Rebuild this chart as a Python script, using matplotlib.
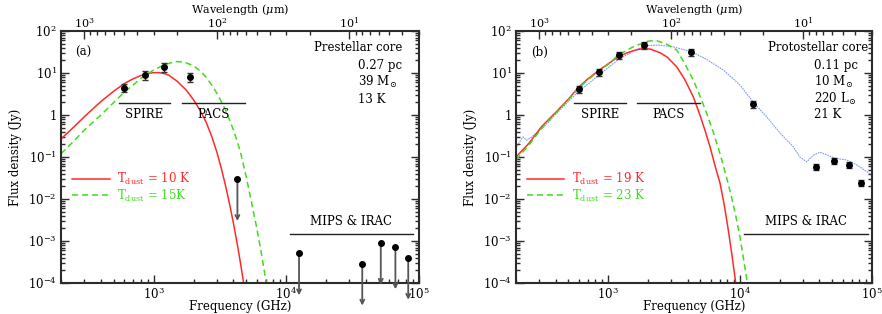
import matplotlib
matplotlib.use('Agg')
import matplotlib.pyplot as plt
import numpy as np
from matplotlib.ticker import LogLocator, FuncFormatter, NullFormatter, FixedLocator

plt.rcParams['font.family'] = 'DejaVu Serif'
plt.rcParams['mathtext.fontset'] = 'dejavuserif'
plt.rcParams['font.size'] = 8.5

# photometry (GHz, Jy)
nu_det_a = [599.6, 856.5, 1199.2, 1873.7]
s_det_a = [4.5, 9.0, 14.0, 8.0]
e_det_a = [1.0, 2.0, 3.2, 1.8]
nu_lim_a = [4282.7, 12491, 37474, 51688, 66621, 83275]
s_lim_a = [0.03, 5.1e-4, 2.9e-4, 9.1e-4, 7.1e-4, 4.0e-4]

nu_det_b = [599.6, 856.5, 1199.2, 1873.7, 4282.7, 12491, 37474, 51688, 66621, 83275]
s_det_b = [4.1, 10.4, 27.0, 47.0, 31.0, 1.83, 0.059, 0.082, 0.065, 0.024]
e_det_b = [0.8, 2.1, 5.4, 9.0, 6.0, 0.35, 0.009, 0.012, 0.010, 0.004]

# greybody fits
nu_red_a = [200, 250, 300, 400, 500, 600, 700, 800, 900, 1000, 1100, 1200, 1300, 1500,
            1750, 2000, 2250, 2500, 2750, 3000, 3250, 3500, 3750, 4000, 4250, 4500, 4750, 5000]
s_red_a = [0.27, 0.52, 0.91, 2.1, 3.7, 5.6, 7.3, 8.7, 9.7, 10.2, 10.2, 9.7, 8.9, 6.4,
           4.0, 2.3, 1.26, 0.65, 0.30, 0.13, 0.051, 0.0195, 7.2e-3, 2.6e-3, 9.3e-4, 3.2e-4, 1.1e-4, 3.7e-5]
nu_grn_a = [200, 250, 300, 400, 500, 600, 700, 850, 1000, 1200, 1450, 1700, 2000, 2250, 2500,
            2750, 3000, 3500, 4000, 4500, 5000, 5500, 6000, 6500, 7000, 7500]
s_grn_a = [0.12, 0.24, 0.44, 1.0, 2.0, 3.5, 5.2, 8.6, 11.8, 15.6, 18.8, 18.2, 14.8, 11.2, 7.8,
           5.1, 3.3, 1.29, 0.44, 0.138, 0.033, 7.7e-3, 2.0e-3, 5.0e-4, 1.2e-4, 2.8e-5]

nu_red_b = [200, 250, 313, 400, 500, 593, 700, 857, 1000, 1193, 1400, 1600, 1845, 2100, 2472,
            2800, 3306, 3800, 4416, 4900, 5400, 5916, 6500, 7047, 7600, 8147, 8700, 9270, 9600]
s_red_b = [0.10, 0.21, 0.53, 1.15, 2.4, 4.5, 7.2, 11.8, 16.5, 24.4, 30.5, 35.0, 38.6, 37.0, 30.4,
           24.0, 14.1, 7.1, 2.73, 1.12, 0.45, 0.176, 0.058, 0.024, 7.1e-3, 1.8e-3, 4.4e-4, 1.0e-4, 4.2e-5]
nu_grn_b = [200, 250, 313, 400, 500, 593, 700, 857, 1000, 1193, 1500, 1845, 2000, 2265, 2472,
            2800, 3306, 3800, 4416, 5000, 5585, 6300, 7047, 7800, 8630, 9300, 9980, 10700, 11350, 11800]
s_grn_b = [0.085, 0.19, 0.48, 1.1, 2.3, 4.3, 6.8, 11.5, 16.0, 26.8, 40.0, 52.6, 57.0, 60.0, 55.6,
           48.0, 35.3, 17.0, 6.8, 2.7, 1.1, 0.37, 0.12, 0.038, 0.011, 3.8e-3, 1.26e-3, 3.3e-4, 1.0e-4, 4.4e-5]

# radiative transfer model (panel b)
nu_mod_b = [200, 215, 227, 241, 263, 295, 350, 400, 500, 593, 857, 1193, 1690, 2000, 2470, 3119,
            4300, 5590, 7460, 9980, 12800, 15900, 20100, 25300, 28400, 32000, 35900, 40400,
            53000, 64300, 76700, 100000]
s_mod_b = [0.16, 0.24, 0.30, 0.25, 0.30, 0.40, 0.66, 1.05, 2.1, 3.6, 9.0, 21.0, 38.0, 45.0, 46.0, 42.0,
           32.0, 21.0, 11.8, 5.2, 1.9, 0.91, 0.37, 0.176, 0.10, 0.077, 0.11, 0.13,
           0.093, 0.085, 0.065, 0.037]

# instrument bands: name, low, high (GHz), bar level (Jy)
bands_a = [('SPIRE', 545, 1336, 1.9), ('PACS', 1636, 4845, 1.9), ('MIPS & IRAC', 10600, 90000, 1.5e-3)]
bands_b = [('SPIRE', 550, 1355, 1.9), ('PACS', 1663, 4950, 1.9), ('MIPS & IRAC', 10700, 92700, 1.5e-3)]

labels_a = ['Prestellar core', '0.27 pc', r'39 M$_{\!\odot}$', '13 K']
labels_b = ['Protostellar core', '0.11 pc', r'10 M$_{\!\odot}$', r'220 L$_{\!\odot}$', '21 K']
temps_a = [r'T$_{\rm dust}$ = 10 K', r'T$_{\rm dust}$ = 15K']
temps_b = [r'T$_{\rm dust}$ = 19 K', r'T$_{\rm dust}$ = 23 K']

y_ticks = [1e-4, 1e-3, 1e-2, 1e-1, 1, 10, 100]
x_ticks = [1e3, 1e4, 1e5]
lam_ticks = [1000, 100, 10]

RED = '#ff2a2a'
GRN = '#3fdc1e'
BLUE = '#7f95ff'
FRAME = '#2b2b2b'


def ylab(v, pos):
    p = int(round(np.log10(v)))
    return '1' if p == 0 else r'$10^{%d}$' % p


def setup(ax):
    ax.set_xscale('log')
    ax.set_yscale('log')
    ax.set_xlim(200, 1e5)
    ax.set_ylim(1e-4, 100)
    ax.yaxis.set_major_locator(FixedLocator(y_ticks))
    ax.yaxis.set_minor_locator(LogLocator(10, subs=np.arange(2, 10), numticks=10))
    ax.yaxis.set_major_formatter(FuncFormatter(ylab))
    ax.yaxis.set_minor_formatter(NullFormatter())
    ax.xaxis.set_major_locator(FixedLocator(x_ticks))
    ax.xaxis.set_major_formatter(FuncFormatter(ylab))
    ax.xaxis.set_minor_formatter(NullFormatter())
    ax.tick_params(which='both', direction='in', right=True, top=False, color=FRAME, width=1.0)
    ax.tick_params(which='major', length=6)
    ax.tick_params(which='minor', length=3)
    ax.tick_params(axis='x', pad=2)
    ax.tick_params(axis='y', pad=3)
    for s in ax.spines.values():
        s.set_linewidth(1.5)
        s.set_color(FRAME)
    ax.set_xlabel('Frequency (GHz)', labelpad=-1.5)
    ax.set_ylabel('Flux density (Jy)', labelpad=4)
    top = ax.twiny()
    top.set_xscale('log')
    top.set_xlim(3e5 / 200, 3e5 / 1e5)
    top.xaxis.set_major_locator(FixedLocator(lam_ticks))
    top.xaxis.set_major_formatter(FuncFormatter(ylab))
    top.xaxis.set_minor_formatter(NullFormatter())
    top.tick_params(which='both', direction='in', color=FRAME, width=1.0, pad=1, labelsize=8)
    top.tick_params(which='major', length=6)
    top.tick_params(which='minor', length=3)
    top.set_xlabel(r'Wavelength ($\mu$m)', labelpad=1.5, fontsize=8)
    for s in top.spines.values():
        s.set_visible(False)


def bars(ax, bands):
    for name, lo, hi, lev in bands:
        ax.plot([lo, hi], [lev, lev], color='#222222', lw=1.0)
        fac = 0.55 if lev > 0.1 else 1.95
        ax.text(np.sqrt(lo * hi), lev * fac, name, ha='center', va='center')


def upper(ax, nu, s):
    for n, v in zip(nu, s):
        ax.annotate('', xy=(n, v / 10), xytext=(n, v), annotation_clip=False,
                    arrowprops=dict(arrowstyle='->', color='#555555', lw=1.3,
                                    shrinkA=0, shrinkB=0, mutation_scale=7))
    ax.plot(nu, s, 'o', color='black', ms=4, clip_on=False, zorder=5)


def info(ax, lines, xr, xl):
    ax.text(xr, 0.934, lines[0], transform=ax.transAxes, ha='right', va='center')
    ys = [0.862, 0.796, 0.730, 0.667]
    for t, y in zip(lines[1:], ys):
        ax.text(xl, y, t, transform=ax.transAxes, ha='left', va='center')


def legend(ax, handles, texts):
    ax.legend(handles, texts, loc='upper left', bbox_to_anchor=(0.03, 0.445),
              frameon=False, handlelength=3.2, handletextpad=0.6, labelspacing=0.05,
              borderpad=0, borderaxespad=0, labelcolor='linecolor')


fig = plt.figure(figsize=(8.82, 3.14), dpi=100)
ax1 = fig.add_axes([0.0692, 0.0987, 0.4056, 0.8025])
ax2 = fig.add_axes([0.5850, 0.0987, 0.4036, 0.8025])

for ax in (ax1, ax2):
    setup(ax)

# panel a
l1, = ax1.plot(nu_red_a, s_red_a, color=RED, lw=1.1)
l2, = ax1.plot(nu_grn_a, s_grn_a, color=GRN, lw=1.1, ls=(0, (4, 2.5)))
ax1.errorbar(nu_det_a, s_det_a, yerr=e_det_a, fmt='o', color='black', ms=4,
             ecolor='#333333', elinewidth=1.0, capsize=2.5, capthick=1.0, zorder=5)
upper(ax1, nu_lim_a, s_lim_a)
bars(ax1, bands_a)
ax1.text(0.039, 0.915, '(a)', transform=ax1.transAxes, ha='left', va='center')
info(ax1, labels_a, 0.955, 0.831)
legend(ax1, [l1, l2], temps_a)

# panel b
ax2.plot(nu_mod_b, s_mod_b, color=BLUE, lw=0.8, ls=(0, (1.5, 0.8)))
l3, = ax2.plot(nu_red_b, s_red_b, color=RED, lw=1.1)
l4, = ax2.plot(nu_grn_b, s_grn_b, color=GRN, lw=1.1, ls=(0, (4, 2.5)))
ax2.errorbar(nu_det_b, s_det_b, yerr=e_det_b, fmt='o', color='black', ms=4,
             ecolor='#333333', elinewidth=1.0, capsize=2.5, capthick=1.0, zorder=5)
bars(ax2, bands_b)
ax2.text(0.042, 0.915, '(b)', transform=ax2.transAxes, ha='left', va='center')
info(ax2, labels_b, 0.99, 0.837)
legend(ax2, [l3, l4], temps_b)

fig.savefig('out.png', dpi=100)
